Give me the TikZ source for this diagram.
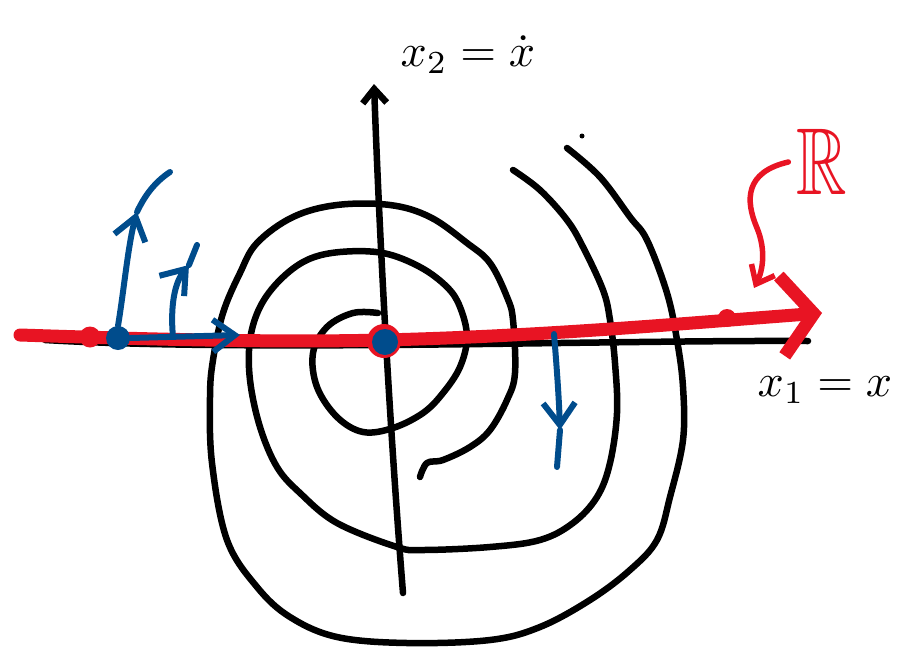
\documentclass[tikz,border=0pt]{standalone}
\usepackage{amsmath, amssymb}
\usetikzlibrary{arrows.meta}
\definecolor{penblue}{RGB}{0, 76, 140}
\definecolor{penred} {RGB}{232, 20, 35}

\begin{document}
\begin{tikzpicture}[x=1pt, y=-1pt, line cap=round, line join=round,
    ink/.style={line width=6.5pt, black},
    redpen/.style={line width=13pt, penred},
    redthin/.style={line width=5.5pt, penred},
    bluepen/.style={line width=6pt, penblue},
    bluearr/.style={bluepen, -{Straight Barb[length=22pt, width=32pt]}},
    bluedot/.style={circle, fill=penblue, minimum size=24pt, inner sep=0pt},
    reddot/.style={circle, fill=penred, minimum size=21pt, inner sep=0pt}]
  \useasboundingbox (0,0) rectangle (907,648);

  % Axes
  \draw[ink, {Straight Barb[length=14pt, width=24pt]}-]
    (374,84) .. controls (380,250) and (390,430) .. (403,593);
  \draw[ink] (45,340) .. controls (250,352) and (600,340) .. (808,341);

  % Spiral trajectories
  \draw[ink] plot[smooth, tension=0.6] coordinates {
    (378,313) (353,313) (327,327) (313,353) (317,387) (337,417) (363,432)
    (393,428) (423,413) (443,393) (460,367) (467,337) (460,307) (447,287)
    (420,267) (383,253) (340,252) (307,260) (280,280) (260,307) (250,340)
    (250,380) (260,427) (277,467) (300,493) (337,523) (397,547) (423,550)
    (490,547) (540,540) (573,523) (597,497) (610,463) (617,413) (615,363)
    (610,320) (603,290) (583,247) (567,220) (540,190) (513,170)};
  \draw[ink] plot[smooth, tension=0.6] coordinates {
    (420,477) (427,463) (443,460) (470,447) (490,430) (507,400) (515,373)
    (513,320) (507,297) (490,263) (467,243) (430,217) (390,205) (337,205)
    (293,217) (257,243) (240,273) (223,313) (213,360) (210,397) (212,463)
    (227,540) (257,587) (290,617) (337,637) (407,643) (490,640) (540,627)
    (590,600) (630,570) (657,540) (670,497) (683,440) (683,387) (677,340)
    (667,293) (647,240) (630,217) (600,177) (567,148)};
  \fill (582,136) circle (2.5);

  % Equilibrium set R
  \draw[redpen, -{Straight Barb[length=32pt, width=80pt]}]
    (20,335) .. controls (200,341) and (300,342) .. (383,340)
    .. controls (550,336) and (700,322) .. (822,313);
  \node[reddot] (q0) at (90,337) {};
  \node[reddot, minimum size=34pt] (q1) at (384,341) {};
  \node[reddot, minimum size=18pt] (q2) at (727,318) {};

  \node[penred, xscale=7, yscale=9.5, inner sep=1pt] (rlab) at (822,162) {$\mathbb{R}$};
  \coordinate (rtip) at (754,288);
  \draw[redthin, -{Straight Barb[length=16pt, width=26pt]}]
    (rlab.west) .. controls (745,172) and (745,200) .. (757,228)
    .. controls (766,250) and (763,270) .. (rtip);

  % Flow near the equilibria
  \node[bluedot] (p0) at (118,338) {};
  \node[bluedot, minimum size=26pt] (p1) at (385,342) {};
  \coordinate (a1) at (137,212);
  \draw[bluearr] (p0.north) .. controls (124,290) and (128,245) .. (a1);
  \draw[bluepen] (a1) .. controls (145,195) and (155,182) .. (170,172);
  \coordinate (a2) at (189,265);
  \draw[bluearr] (173,337) .. controls (170,305) and (175,282) .. (a2);
  \draw[bluepen] (a2) -- (197,245);
  \draw[bluearr] (p0.east) -- (240,335);
  \coordinate (a3) at (560,430);
  \draw[bluearr] (554,334) .. controls (557,370) and (559,400) .. (a3);
  \draw[bluepen] (a3) -- (557,467);

  % Labels
  \node[scale=4.6] (x2lab) at (468,55) {$x_2=\dot{x}$};
  \node[scale=4.6] (x1lab) at (825,390) {$x_1=x$};
\end{tikzpicture}
\end{document}
